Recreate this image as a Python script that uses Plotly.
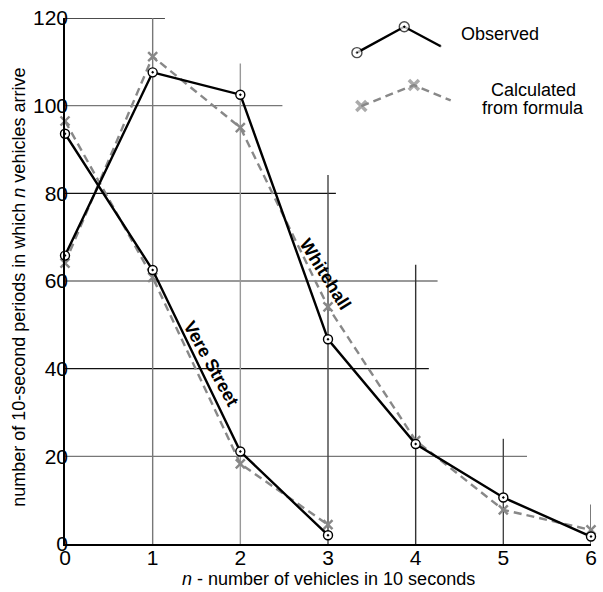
import plotly.graph_objects as go

# ---- data -------------------------------------------------------------
n_vere = [0, 1, 2, 3]
vere_observed = [93.6, 62.5, 21.1, 2.0]
vere_calculated = [96.5, 60.8, 18.3, 4.4]

n_white = [0, 1, 2, 3, 4, 5, 6]
white_observed = [65.8, 107.6, 102.5, 46.7, 22.8, 10.6, 1.7]
white_calculated = [64.1, 111.2, 95.0, 54.1, 23.6, 7.8, 3.2]

x_ticks = [0, 1, 2, 3, 4, 5, 6]
y_ticks = [0, 20, 40, 60, 80, 100, 120]

# stepped grid: each line only runs part way across
h_grid_y = [20, 40, 60, 80, 100, 120]
h_grid_end = [5.27, 4.15, 4.25, 3.09, 2.48, 1.14]
h_grid_col = ["#777777", "#111111", "#777777", "#111111", "#777777", "#111111"]
v_grid_x = [1, 2, 3, 4, 5, 6]
v_grid_top = [120, 109.6, 84.2, 63.7, 24.0, 9.0]
v_grid_col = ["#777777", "#999999", "#444444", "#333333", "#444444", "#444444"]

# hand-drawn key in the upper right
key_obs_x = [3.33, 3.87, 4.28]
key_obs_y = [112.1, 118.0, 113.6]
key_calc_x = [3.38, 3.98, 4.40]
key_calc_y = [99.9, 104.7, 101.2]

FONT = "Arial, Liberation Sans, sans-serif"
OBS_COL = "#000000"
CALC_COL = "#888888"

fig = go.Figure()

def observed(x, y, name):
    fig.add_trace(go.Scatter(
        x=x, y=y, mode="lines+markers", name=name,
        line=dict(color=OBS_COL, width=2.4),
        marker=dict(symbol="circle-dot", size=9, color="white",
                    line=dict(color=OBS_COL, width=1.4)),
        cliponaxis=False, showlegend=False))

def calculated(x, y, name):
    fig.add_trace(go.Scatter(
        x=x, y=y, mode="lines+markers", name=name,
        line=dict(color=CALC_COL, width=2.4, dash="8px,5px"),
        marker=dict(symbol="x-thin", size=9,
                    line=dict(color=CALC_COL, width=2.4)),
        cliponaxis=False, showlegend=False))

calculated(n_vere, vere_calculated, "Vere Street calculated")
calculated(n_white, white_calculated, "Whitehall calculated")
observed(n_vere, vere_observed, "Vere Street observed")
observed(n_white, white_observed, "Whitehall observed")

# key glyphs: marker on the first two points only
fig.add_trace(go.Scatter(
    x=key_calc_x, y=key_calc_y, mode="lines+markers",
    line=dict(color=CALC_COL, width=2.4, dash="8px,5px"),
    marker=dict(symbol="x-thin", size=[10, 10, 0],
                line=dict(color=CALC_COL, width=3.5)),
    showlegend=False, cliponaxis=False))
fig.add_trace(go.Scatter(
    x=key_obs_x, y=key_obs_y, mode="lines+markers",
    line=dict(color=OBS_COL, width=2.4),
    marker=dict(symbol="circle-dot", size=[10, 10, 0], color="white",
                line=dict(color=OBS_COL, width=1.4)),
    showlegend=False, cliponaxis=False))

shapes = []
for y, x1, c in zip(h_grid_y, h_grid_end, h_grid_col):
    shapes.append(dict(type="line", xref="x", yref="y", x0=0, x1=x1,
                       y0=y, y1=y, line=dict(color=c, width=1.4),
                       layer="below"))
for x, y1, c in zip(v_grid_x, v_grid_top, v_grid_col):
    shapes.append(dict(type="line", xref="x", yref="y", x0=x, x1=x,
                       y0=0, y1=y1, line=dict(color=c, width=1.4),
                       layer="below"))

annotations = [
    dict(x=1.66, y=41.2, xref="x", yref="y", text="<b>Vere Street</b>",
         textangle=61, showarrow=False,
         font=dict(family=FONT, size=18, color="black")),
    dict(x=2.965, y=61.5, xref="x", yref="y", text="<b>Whitehall</b>",
         textangle=58, showarrow=False,
         font=dict(family=FONT, size=18, color="black")),
    dict(x=4.49, y=116.4, xref="x", yref="y", text="Observed",
         xanchor="left", showarrow=False,
         font=dict(family=FONT, size=18, color="black")),
    dict(x=5.34, y=103.6, xref="x", yref="y", text="Calculated",
         showarrow=False, font=dict(family=FONT, size=18, color="black")),
    dict(x=5.34, y=99.5, xref="x", yref="y", text="from formula",
         showarrow=False, font=dict(family=FONT, size=18, color="black")),
    dict(x=0.5, y=0, xref="paper", yref="paper", yanchor="middle",
         yshift=-35,
         text="<i>n</i> - number of vehicles in 10 seconds",
         showarrow=False, font=dict(family=FONT, size=18, color="black")),
    dict(x=0, y=0.487, xref="paper", yref="paper", textangle=-90,
         xanchor="center", yanchor="middle", xshift=-46,
         text="number of 10-second periods in which <i>n</i> vehicles arrive",
         showarrow=False, font=dict(family=FONT, size=18, color="black")),
]

fig.update_layout(
    width=603, height=592,
    margin=dict(l=65, r=6, t=13, b=48),
    paper_bgcolor="white", plot_bgcolor="white",
    shapes=shapes, annotations=annotations,
    font=dict(family=FONT, color="black"),
    xaxis=dict(range=[0, 6], tickvals=x_ticks, showgrid=False,
               zeroline=False, showline=True, linecolor="black",
               linewidth=1.6, ticks="", tickfont=dict(size=21),
               ticklabelstandoff=-6, fixedrange=True),
    yaxis=dict(range=[0, 120], tickvals=y_ticks, showgrid=False,
               zeroline=False, showline=True, linecolor="black",
               linewidth=1.6, ticks="", tickfont=dict(size=21),
               ticklabelstandoff=-9, fixedrange=True),
)

fig.write_html("out.html")
